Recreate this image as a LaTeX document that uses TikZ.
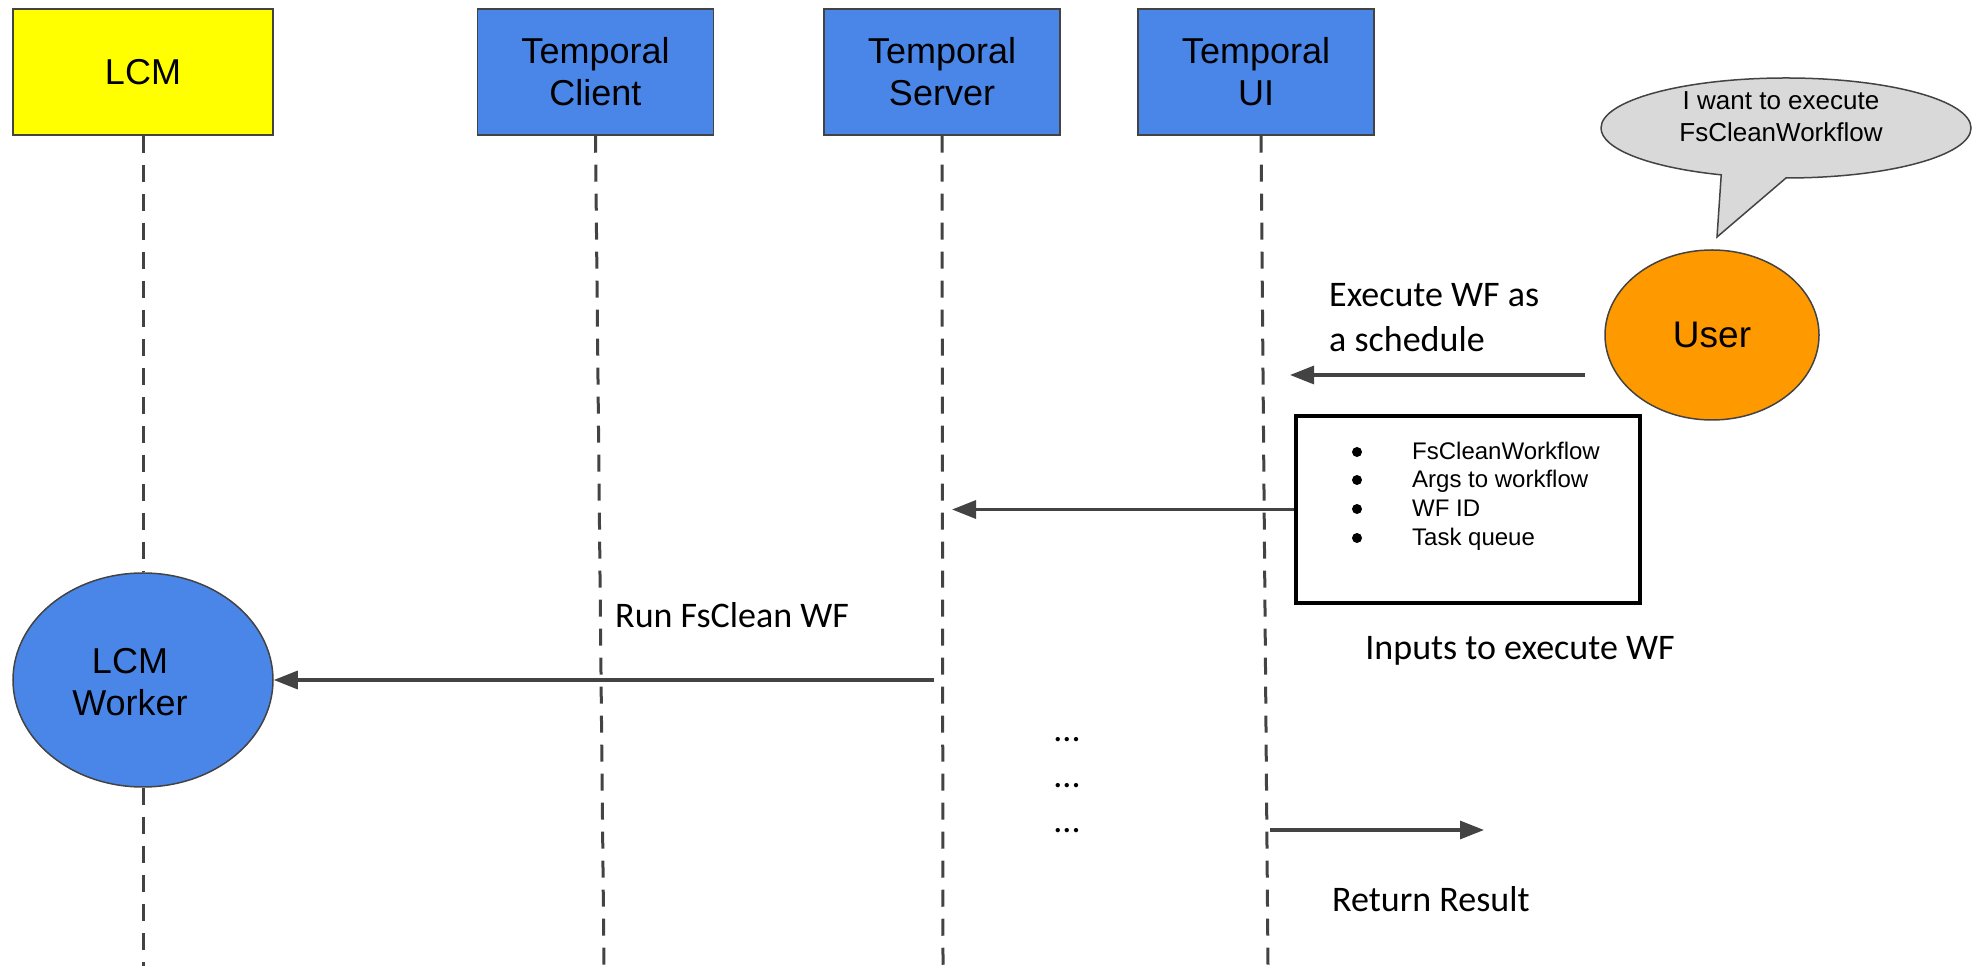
\documentclass[tikz,border=0pt]{standalone}
\usepackage{fontspec}
\setmainfont{Liberation Sans}
\newfontfamily\calibrifont{Carlito}
\usetikzlibrary{arrows.meta,shapes.geometric}
\definecolor{lineg}{HTML}{434343}
\definecolor{lcmyellow}{HTML}{FFFF00}
\definecolor{tblue}{HTML}{4A86E8}
\definecolor{uorange}{HTML}{FF9900}
\definecolor{bubgray}{HTML}{D9D9D9}
\begin{document}
\begin{tikzpicture}[x=1pt,y=1pt,
  hdr/.style={draw=lineg, line width=1.5pt, minimum width=236pt, minimum height=126pt,
    align=center, font=\fontsize{36}{42}\selectfont, inner sep=0pt},
  life/.style={draw=lineg, line width=3pt, dash pattern=on 17pt off 12pt},
  arr/.style={draw=lineg, line width=3.2pt, -{Triangle[length=24pt,width=18pt]}},
  lbl/.style={font=\calibrifont\fontsize{36}{43}\selectfont, inner sep=0pt},
  item/.style={font=\fontsize{24}{29}\selectfont, inner sep=0pt, anchor=base west},
]
\useasboundingbox (0,0) rectangle (1985,966);

% coordinates for free ends
\coordinate (lcmbot) at (143,0);
\coordinate (clientbot) at (604,0);
\coordinate (serverbot) at (943,0);
\coordinate (uibot) at (1268,0);
\coordinate (execstart) at (1585,591);
\coordinate (execend) at (1290,591);
\coordinate (srvtip) at (952,456.5);
\coordinate (runstart) at (934,286);
\coordinate (retstart) at (1270,136);
\coordinate (retend) at (1484,136);

% participants
\node[hdr, fill=lcmyellow, minimum width=260pt] (lcm) at (143,894) {LCM};
\node[hdr, fill=tblue] (client) at (595.5,894) {Temporal\\Client};
\node[hdr, fill=tblue] (server) at (942,894) {Temporal\\Server};
\node[hdr, fill=tblue] (ui) at (1256,894) {Temporal\\UI};

\node[ellipse, draw=lineg, line width=1.5pt, fill=tblue, minimum width=260pt,
  minimum height=214pt, inner sep=0pt] (worker) at (143,286) {};
\node[align=center, font=\fontsize{36}{42}\selectfont, inner sep=0pt] (workerlbl) at (130,284) {LCM\\Worker};

% lifelines
\draw[life] (lcm.south) -- (worker.north);
\draw[life] (worker.south) -- (lcmbot);
\draw[life] (client.south) -- (clientbot);
\draw[life] (server.south) -- (serverbot);
\draw[life] ([xshift=5pt]ui.south) -- (uibot);

% user and speech bubble
\node[ellipse, draw=lineg, line width=1.5pt, fill=uorange, minimum width=214pt,
  minimum height=170pt, inner sep=0pt, font=\fontsize{37}{42}\selectfont] (user) at (1712,631) {User};
\draw[draw=lineg, line width=1.5pt, fill=bubgray] (1786,788)
  arc[start angle=270, end angle=609.5, x radius=185pt, y radius=50pt] -- (1717,729) -- cycle;
\node[align=center, font=\fontsize{26}{32}\selectfont, inner sep=0pt] (bubble) at (1781,849) {I want to execute\\FsCleanWorkflow};

% inputs box
\node[draw=black, line width=3.5pt, minimum width=344pt, minimum height=187pt] (inputs) at (1468,456.5) {};
\foreach \yd/\yb/\t [count=\i] in {514/506/FsCleanWorkflow, 486/478/Args to workflow, 457/449/WF ID, 428/420/Task queue}{
  \fill (1357,\yd) circle (5pt);
  \node[item] (item\i) at (1412,\yb) {\t};
}

% arrows
\draw[arr] (execstart) -- (execend);
\draw[arr] (inputs.west) -- (srvtip);
\draw[arr] (runstart) -- (worker.east);
\draw[arr] (retstart) -- (retend);

% labels
\node[lbl, anchor=base west] (exec1) at (1329,659.5) {Execute WF as};
\node[lbl, anchor=base west] (exec2) at (1329,614.5) {a schedule};
\node[lbl, anchor=base west] (runlbl) at (615,338.5) {Run FsClean WF};
\node[lbl, anchor=base] (inlbl) at (1520,306.5) {Inputs to execute WF};
\node[lbl, anchor=base west] (retlbl) at (1332,54.5) {Return Result};
\node[lbl, anchor=base] (dots1) at (1067,224) {...};
\node[lbl, anchor=base] (dots2) at (1067,178) {...};
\node[lbl, anchor=base] (dots3) at (1067,133) {...};
\end{tikzpicture}
\end{document}
